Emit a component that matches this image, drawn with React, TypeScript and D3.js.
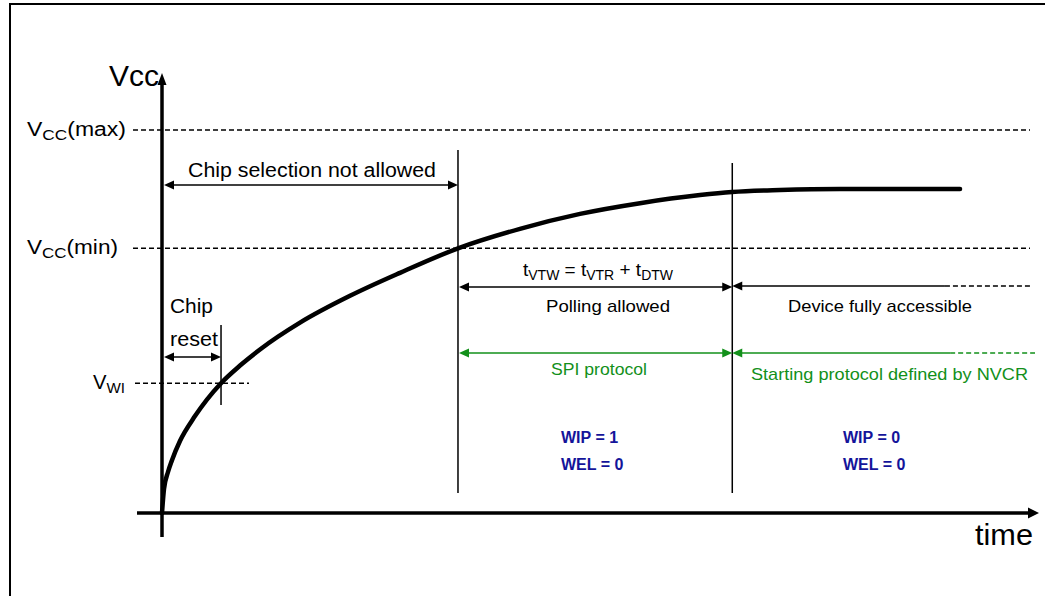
import React from "react";
import * as d3 from "d3";

// ---- data (time units 0..100, voltage units 0..100 where Vcc(max)=100) ----
const curveTime = [0, 0.23, 0.69, 1.15, 2.07, 3.8, 6.8, 8.99, 11.29, 15.9, 21.66, 27.42, 34.1, 41.24, 48.16, 55.07, 61.98, 65.67, 71.2, 78.11, 91.94];
const curveVolt = [0, 6.27, 10.7, 13.8, 18.8, 25.3, 33.9, 38.5, 42.7, 49.7, 56.7, 62.7, 69.1, 74.2, 78.1, 80.9, 83.0, 83.8, 84.33, 84.6, 84.6];

const levelNames = ["max", "min", "WI"];
const levelValues = [100, 69.1, 33.9];

const tReset = 6.8;   // chip reset boundary (V = VWI)
const tMin = 34.1;    // Vcc reaches Vcc(min)
const tVTW = 65.7;    // end of tVTW
const tEnd = 100;

const statusLeft = ["WIP = 1", "WEL = 0"];
const statusRight = ["WIP = 0", "WEL = 0"];

const FONT = '"Liberation Sans", Arial, Helvetica, sans-serif';
const GREEN = "#12901a";
const NAVY = "#14149a";

function ArrowHead({ x, y, dir, color, len = 10, half = 4.5 }: { x: number; y: number; dir: "left" | "right" | "up"; color: string; len?: number; half?: number }) {
  let d = "";
  if (dir === "left") d = `M${x},${y} L${x + len},${y - half} L${x + len},${y + half} Z`;
  if (dir === "right") d = `M${x},${y} L${x - len},${y - half} L${x - len},${y + half} Z`;
  if (dir === "up") d = `M${x},${y} L${x - half},${y + len} L${x + half},${y + len} Z`;
  return <path d={d} fill={color} />;
}

function DoubleArrow({ x1, x2, y, color, w = 1.6 }: { x1: number; x2: number; y: number; color: string; w?: number }) {
  return (
    <g>
      <line x1={x1 + 4} x2={x2 - 4} y1={y} y2={y} stroke={color} strokeWidth={w} />
      <ArrowHead x={x1} y={y} dir="left" color={color} />
      <ArrowHead x={x2} y={y} dir="right" color={color} />
    </g>
  );
}

export default function App() {
  const W = 1045, H = 596;
  const x = d3.scaleLinear().domain([0, 100]).range([162, 1030]);
  const y = d3.scaleLinear().domain([0, 100]).range([513, 130]);

  const pts: [number, number][] = curveTime.map((t, i) => [x(t), y(curveVolt[i])]);
  const line = d3.line<[number, number]>().x(d => d[0]).y(d => d[1]).curve(d3.curveMonotoneX);

  const x0 = x(0);
  const xR = x(tReset), xM = x(tMin), xV = x(tVTW), xE = x(tEnd);
  const xSolidBlack = x(90.2), xSolidGreen = x(90.8);
  const yPoll = 287, ySpi = 353;
  const labelLen: Record<string, number> = { max: 99, min: 91, WI: 32 };

  return (
    <svg width={W} height={H} style={{ position: "absolute", left: 0, top: 0, background: "#fff" }} fontFamily={FONT}>
      <rect x={0} y={0} width={W} height={H} fill="#fff" />
      {/* frame */}
      <rect x={10} y={4} width={W + 20} height={H + 20} fill="none" stroke="#000" strokeWidth={2} />

      {/* level dashed lines */}
      {levelNames.map((n, i) => (
        <line key={"d" + n} x1={n === "WI" ? 135 : 133} x2={n === "WI" ? 249 : xE} y1={y(levelValues[i])} y2={y(levelValues[i])}
          stroke="#000" strokeWidth={1.5} strokeDasharray="5,3" />
      ))}

      {/* level labels */}
      {levelNames.map((n, i) => {
        const yy = y(levelValues[i]) + 6;
        const xx = n === "WI" ? 93 : 27;
        const sub = n === "WI" ? "WI" : "CC";
        return (
          <text key={n} x={xx} y={yy} fontSize={20} fill="#000" textLength={labelLen[n]} lengthAdjust="spacingAndGlyphs">
            V<tspan fontSize={15} dy={4}>{sub}</tspan>
            {n !== "WI" && <tspan dy={-4}>({n})</tspan>}
          </text>
        );
      })}

      {/* axes */}
      <line x1={137} x2={1030} y1={y(0)} y2={y(0)} stroke="#000" strokeWidth={3.5} />
      <ArrowHead x={1039} y={y(0)} dir="right" color="#000" len={11} half={5.5} />
      <line x1={x0} x2={x0} y1={537} y2={82} stroke="#000" strokeWidth={3.5} />
      <ArrowHead x={x0} y={73} dir="up" color="#000" len={12} half={4.5} />
      <text x={159} y={86} fontSize={30} textAnchor="end" fill="#000">Vcc</text>
      <text x={1033} y={545} fontSize={29} textAnchor="end" fill="#000" textLength={58} lengthAdjust="spacingAndGlyphs">time</text>

      {/* vertical markers */}
      <line x1={xR} x2={xR} y1={325} y2={405} stroke="#000" strokeWidth={1.5} />
      <line x1={xM} x2={xM} y1={150} y2={493} stroke="#000" strokeWidth={1.5} />
      <line x1={xV} x2={xV} y1={163} y2={493} stroke="#000" strokeWidth={1.5} />

      {/* Vcc curve */}
      <path d={line(pts) || ""} fill="none" stroke="#000" strokeWidth={4.5} strokeLinecap="round" />

      {/* chip selection not allowed */}
      <DoubleArrow x1={x0 + 2} x2={xM} y={185} color="#000" />
      <text x={188} y={177} fontSize={20} fill="#000" textLength={248} lengthAdjust="spacingAndGlyphs">Chip selection not allowed</text>

      {/* chip reset */}
      <DoubleArrow x1={x0 + 2} x2={xR} y={357} color="#000" />
      <text x={170} y={313} fontSize={20} fill="#000" textLength={43} lengthAdjust="spacingAndGlyphs">Chip</text>
      <text x={170} y={346} fontSize={20} fill="#000" textLength={48} lengthAdjust="spacingAndGlyphs">reset</text>

      {/* tVTW */}
      <text x={523} y={276} fontSize={19} fill="#000" textLength={150} lengthAdjust="spacingAndGlyphs">
        t<tspan fontSize={14} dy={4}>VTW</tspan><tspan dy={-4}> = t</tspan><tspan fontSize={14} dy={4}>VTR</tspan><tspan dy={-4}> + t</tspan><tspan fontSize={14} dy={4}>DTW</tspan>
      </text>

      {/* polling allowed */}
      <DoubleArrow x1={xM + 1} x2={xV} y={yPoll} color="#000" />
      <text x={546} y={312} fontSize={17} fill="#000" textLength={124} lengthAdjust="spacingAndGlyphs">Polling allowed</text>

      {/* device fully accessible */}
      <line x1={xV + 4} x2={xSolidBlack} y1={yPoll - 1} y2={yPoll - 1} stroke="#000" strokeWidth={1.6} />
      <ArrowHead x={xV} y={yPoll - 1} dir="left" color="#000" />
      <line x1={xSolidBlack} x2={xE} y1={yPoll - 1} y2={yPoll - 1} stroke="#000" strokeWidth={1.5} strokeDasharray="5,3" />
      <text x={788} y={312} fontSize={17} fill="#000" textLength={184} lengthAdjust="spacingAndGlyphs">Device fully accessible</text>

      {/* SPI protocol */}
      <DoubleArrow x1={xM + 1} x2={xV} y={ySpi} color={GREEN} />
      <text x={551} y={375} fontSize={17} fill={GREEN} textLength={96} lengthAdjust="spacingAndGlyphs">SPI protocol</text>

      {/* starting protocol */}
      <line x1={xV + 4} x2={xSolidGreen} y1={ySpi} y2={ySpi} stroke={GREEN} strokeWidth={1.6} />
      <ArrowHead x={xV} y={ySpi} dir="left" color={GREEN} />
      <line x1={xSolidGreen} x2={1035} y1={ySpi} y2={ySpi} stroke={GREEN} strokeWidth={1.5} strokeDasharray="5,3" />
      <text x={751} y={380} fontSize={17} fill={GREEN} textLength={277} lengthAdjust="spacingAndGlyphs">Starting protocol defined by NVCR</text>

      {/* status bits */}
      {statusLeft.map((s, i) => (
        <text key={"l" + i} x={561} y={443 + i * 27} fontSize={16} fontWeight="bold" fill={NAVY}>{s}</text>
      ))}
      {statusRight.map((s, i) => (
        <text key={"r" + i} x={843} y={443 + i * 27} fontSize={16} fontWeight="bold" fill={NAVY}>{s}</text>
      ))}
    </svg>
  );
}
